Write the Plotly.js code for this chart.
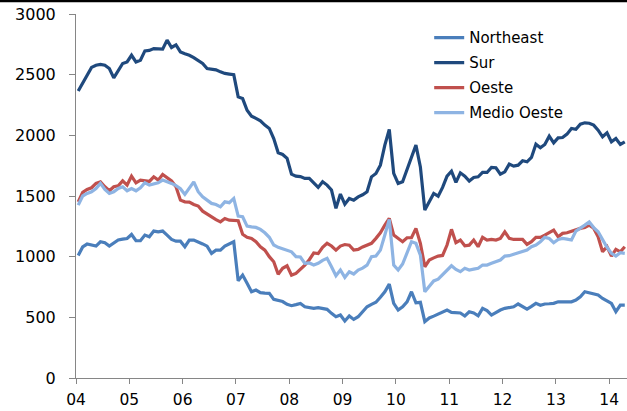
<!DOCTYPE html>
<html><head><meta charset="utf-8">
<script src="https://cdn.plot.ly/plotly-3.0.1.min.js"></script>
<style>html,body{margin:0;padding:0;background:#fff;}#chart{width:627px;height:411px;}</style>
</head><body><div id="chart"></div>
<script>
// Monthly series, Jan 2004 .. Apr 2014 (124 months)
const startYear = 2004;
const monthCount = 124;
const tickYears = [2004,2005,2006,2007,2008,2009,2010,2011,2012,2013,2014];
const tickLabels = ['04','05','06','07','08','09','10','11','12','13','14'];
const seriesNames = ['Northeast','Sur','Oeste','Medio Oeste'];

const northeast = [1010,1080,1104,1095,1087,1123,1115,1087,1115,1137,1145,1150,1183,1131,1131,1178,1164,1211,1205,1211,
 1178,1142,1128,1128,1082,1137,1137,1123,1105,1087,1027,1054,1054,1087,1105,1123,801,848,780,711,
 725,703,700,698,648,640,630,607,596,605,615,587,580,574,580,572,566,533,505,519,
 470,511,483,505,546,587,607,624,665,711,774,615,560,587,628,711,620,624,464,495,
 510,527,545,560,541,538,536,511,546,536,513,574,555,519,540,560,574,580,587,610,
 591,568,590,615,600,610,612,615,628,628,628,628,642,670,711,700,692,684,656,637,
 615,546,601,601];

const sur = [2365,2430,2500,2560,2578,2584,2578,2551,2474,2537,2592,2605,2660,2605,2619,2696,2700,2715,2712,2710,
 2785,2724,2745,2688,2672,2660,2640,2619,2592,2551,2545,2540,2523,2510,2505,2500,2317,2303,2207,2158,
 2140,2120,2084,2057,1974,1856,1842,1810,1680,1664,1660,1645,1645,1609,1571,1617,1590,1549,1398,1516,
 1433,1480,1466,1493,1510,1535,1658,1686,1754,1919,2048,1686,1604,1617,1727,1820,1919,1740,1384,1452,
 1521,1499,1571,1664,1705,1612,1691,1664,1623,1653,1658,1694,1694,1735,1733,1680,1699,1763,1746,1754,
 1790,1782,1818,1927,1897,1925,1993,1938,1979,1982,2010,2057,2050,2092,2103,2100,2084,2043,1988,2021,
 1946,1974,1925,1946];

const oeste = [1452,1530,1554,1568,1604,1617,1576,1543,1576,1584,1625,1590,1664,1609,1631,1625,1620,1658,1631,1678,
 1653,1625,1576,1466,1452,1450,1430,1417,1375,1351,1323,1305,1287,1315,1301,1298,1296,1185,1160,1150,
 1123,1082,1054,1000,958,855,904,925,848,862,895,931,975,1030,1025,1077,1110,1088,1054,1087,
 1100,1095,1054,1060,1080,1095,1110,1151,1197,1260,1315,1178,1151,1123,1156,1156,1233,1110,917,972,
 990,1005,1010,1096,1225,1115,1137,1090,1095,1137,1082,1159,1137,1142,1137,1150,1205,1151,1142,1142,
 1142,1101,1123,1159,1159,1178,1197,1219,1164,1192,1197,1210,1219,1233,1240,1260,1235,1164,1040,1082,
 1005,1060,1040,1082];

const medioOeste = [1425,1500,1521,1535,1562,1604,1554,1521,1535,1562,1576,1543,1562,1543,1568,1609,1590,1598,1609,1631,
 1620,1604,1585,1560,1513,1568,1617,1535,1493,1466,1439,1430,1411,1452,1445,1480,1334,1329,1252,1245,
 1241,1225,1197,1160,1096,1077,1065,1050,1040,1000,997,945,948,931,945,970,986,917,843,890,
 829,876,857,890,905,930,1000,1005,1054,1178,1307,931,890,939,1027,1123,1110,1013,711,752,
 800,815,850,884,925,895,876,904,890,897,904,931,931,945,958,972,1005,1008,1020,1032,
 1040,1054,1082,1096,1123,1159,1150,1115,1142,1150,1145,1137,1211,1233,1260,1287,1240,1205,1137,1077,
 1027,1005,1032,1027];

// x position of each month (centred in its month slot)
const xMonths = [];
for (let i = 0; i < monthCount; i++) xMonths.push(startYear + (i + 0.5) / 12);

const colors = ['#4A7EBB', '#1F497D', '#C0504D', '#8EB4E3'];
const values = [northeast, sur, oeste, medioOeste];

const traces = values.map((v, k) => ({
  type: 'scatter', mode: 'lines', name: seriesNames[k], legendgroup: 'g' + k,
  x: xMonths, y: v, line: {color: colors[k], width: 3.2, shape: 'linear'},
  hoverinfo: 'skip'
}));

const FONT = 'DejaVu Sans, Liberation Sans, Arial, sans-serif';
const layout = {
  width: 627, height: 411,
  margin: {l: 76, r: 0, t: 14, b: 33, pad: 0},
  paper_bgcolor: '#ffffff', plot_bgcolor: '#ffffff',
  font: {family: FONT, size: 16, color: '#000000'},
  showlegend: true,
  legend: {
    x: 0.641, y: 0.98, xanchor: 'left', yanchor: 'top',
    bgcolor: 'rgba(0,0,0,0)', borderwidth: 0,
    font: {family: FONT, size: 15, color: '#000000'},
    traceorder: 'grouped', tracegroupgap: 2.5
  },
  xaxis: {
    type: 'linear', range: [startYear, startYear + monthCount / 12],
    tickmode: 'array', tickvals: tickYears, ticktext: tickLabels,
    showgrid: false, zeroline: false,
    showline: true, linecolor: '#868686', linewidth: 1,
    ticks: 'outside', ticklen: 5, tickcolor: '#868686', tickwidth: 1,
    tickfont: {family: FONT, size: 15.5, color: '#000000'},
    ticklabelstandoff: 2,
    fixedrange: true
  },
  yaxis: {
    range: [0, 3000], tickmode: 'array', tickvals: [0,500,1000,1500,2000,2500,3000],
    showgrid: false, zeroline: false,
    showline: true, linecolor: '#868686', linewidth: 1,
    ticks: 'outside', ticklen: 6, tickcolor: '#868686', tickwidth: 1,
    tickfont: {family: FONT, size: 16, color: '#000000'},
    ticklabelstandoff: 10,
    fixedrange: true
  },
  shapes: [{
    type: 'line', xref: 'paper', yref: 'paper',
    x0: -76 / 551, x1: 1, y0: 1 + 13 / 364, y1: 1 + 13 / 364,
    line: {color: '#000000', width: 2.5}
  }]
};

Plotly.newPlot('chart', traces, layout, {staticPlot: true, displayModeBar: false});
</script>
</body></html>
